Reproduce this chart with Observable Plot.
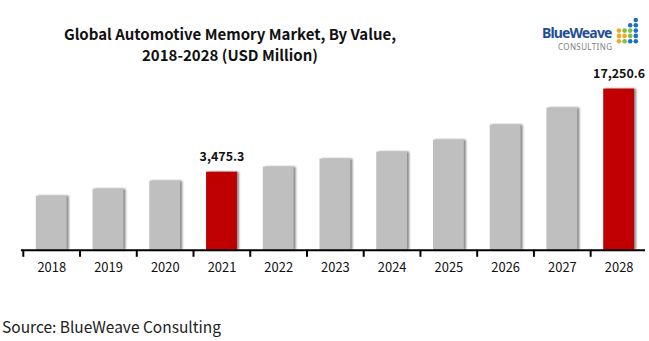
<!DOCTYPE html>
<html>
<head>
<meta charset="utf-8">
<script src="https://cdn.jsdelivr.net/npm/d3@7"></script>
<script src="https://cdn.jsdelivr.net/npm/@observablehq/plot@0.6"></script>
<style>
  html, body { margin: 0; padding: 0; background: #fff; width: 649px; height: 341px; overflow: hidden; position: relative; font-family: "Noto Sans CJK SC", "Noto Sans", sans-serif; }
  #title { position: absolute; left: 20px; width: 420px; top: 23px; text-align: center; font-weight: bold; font-size: 15px; line-height: 21px; color: #111; }
  #logo { position: absolute; left: 530px; top: 12px; }
  #chart { position: absolute; left: 0; top: 0; }
  #source { position: absolute; left: 2px; top: 315px; font-size: 15.5px; color: #222; }
  #chart g[aria-label="bar"] rect { filter: drop-shadow(2px 0px 1px rgba(90,90,90,0.75)); }
</style>
</head>
<body>
<div id="title">Global Automotive Memory Market, By Value,<br>2018-2028 (USD Million)</div>
<svg id="logo" width="115" height="42" viewBox="0 0 115 42">
  <text x="12" y="25.5" font-family="Noto Sans, sans-serif" font-weight="bold" font-size="14" fill="#1f4e96" letter-spacing="-0.4" textLength="70">BlueWeave</text>
  <text x="28" y="37.5" font-family="Noto Sans, sans-serif" font-size="8" fill="#808080" textLength="54">CONSULTING</text>
  <g id="dots"></g>
</svg>
<div id="chart"></div>
<div id="source">Source: BlueWeave Consulting</div>
<script>
// ---- data ----
const years = ["2018","2019","2020","2021","2022","2023","2024","2025","2026","2027","2028"];
const values = [2187, 2503, 2921, 3475.3, 3826, 4467, 5113, 6445, 8610, 11953, 17250.6];
const highlighted = ["2021", "2028"];
const labelYears = ["2021", "2028"];
const labelTexts = ["3,475.3", "17,250.6"];
const yBase = 771;

const data = years.map((y, i) => ({year: y, value: values[i], hl: highlighted.includes(y)}));
const labels = labelYears.map((y, i) => ({year: y, value: values[years.indexOf(y)], text: labelTexts[i]}));

const chart = Plot.plot({
  width: 652,
  height: 290,
  marginLeft: 22,
  marginRight: 0,
  marginTop: 89,
  marginBottom: 39,
  style: {fontFamily: '"Noto Sans CJK SC", "Noto Sans", sans-serif', background: "transparent", overflow: "visible"},
  x: {domain: years, paddingInner: 0.455, paddingOuter: 0.2275, align: 0.5, label: null},
  y: {type: "log", domain: [yBase, 17250.6], axis: null},
  marks: [
    Plot.barY(data, {x: "year", y1: yBase, y2: "value", fill: d => d.hl ? "#c00000" : "#bfbfbf"}),
    Plot.text(labels, {x: "year", y: "value", text: "text", dy: -15, fontWeight: "bold", fontSize: 12.5, fill: "#111"}),
    Plot.axisX({tickSize: 7, tickWidth: 2, stroke: "#000", strokeWidth: 2, tickFormat: () => "", dx: -28.6, tickPadding: 0, label: null}),
    Plot.axisX({tickSize: 0, tickPadding: 13, fontSize: 13, fill: "#111", label: null}),
    Plot.ruleY([yBase], {stroke: "#000", strokeWidth: 2})
  ]
});
document.getElementById("chart").appendChild(chart);

// extend baseline over the full width
const svg = d3.select(chart);
svg.selectAll('g[aria-label="rule"] line').attr("x1", 21).attr("x2", 648);

// logo dot grid (decoration)
const dotColors = [
  [null, null, null, "#1f6fc1"],
  [null, null, "#1f6fc1", "#1f6fc1"],
  ["#f5a623", "#7cc242", "#7cc242", "#1f6fc1"],
  ["#f5a623", "#f5a623", "#7cc242", "#1f6fc1"],
  ["#f5a623", "#7cc242", "#1f6fc1", "#1f6fc1"]
];
const dots = d3.select("#dots");
dotColors.forEach((row, r) => row.forEach((c, k) => {
  if (c) dots.append("circle").attr("cx", 89 + k * 5.6).attr("cy", 8 + r * 5.3).attr("r", 2.3).attr("fill", c);
}));
</script>
</body>
</html>
